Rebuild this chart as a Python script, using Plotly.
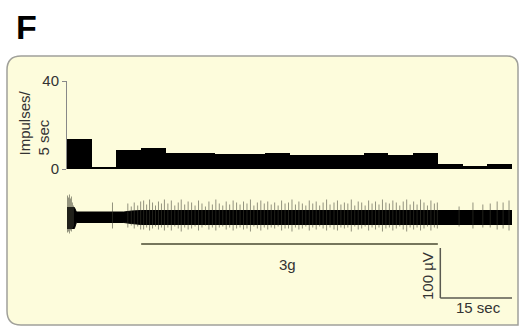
import plotly.graph_objects as go

W, H = 520, 326

# ---- data ----
bin_edges_start = [0, 5, 10, 15, 20, 25, 30, 35, 40, 45, 50, 55, 60, 65, 70, 75, 80, 85]
impulses = [13.5, 0.5, 8.6, 9.7, 7.4, 7.4, 6.7, 6.7, 7.4, 6.4, 6.4, 6.4, 7.4, 6.4, 7.4, 2.3, 1.4, 2.3]
bin_width = 5
y_ticks = [0, 40]
y_tick_labels = ["0", "40"]

spike_t = [
    0.1, 0.3, 0.5, 0.7, 0.9, 1.1, 1.3,
    9.2,
    12.3, 13.0, 13.6, 14.3, 14.9,
    15.5, 16.1, 16.7, 17.3, 17.9, 18.5, 19.1, 19.7,
    20.4, 21.1, 21.8, 22.5, 23.1, 23.8, 24.5,
    25.2, 25.9, 26.6, 27.3, 28.0, 28.7, 29.4,
    30.1, 30.8, 31.5, 32.2, 32.9, 33.6, 34.3,
    35.0, 35.7, 36.4, 37.1, 37.8, 38.5, 39.2, 39.9,
    40.6, 41.3, 42.0, 42.7, 43.4, 44.1,
    44.8, 45.5, 46.2, 46.9, 47.6, 48.3, 49.0,
    49.7, 50.4, 51.1, 51.8, 52.5, 53.2, 54.0,
    54.7, 55.4, 56.1, 56.8, 57.5, 58.2, 58.9,
    59.6, 60.3, 61.0, 61.7, 62.4, 63.1, 63.8, 64.5,
    65.2, 65.9, 66.6, 67.3, 68.0, 68.7, 69.4,
    70.1, 70.8, 71.5, 72.2, 72.9, 73.6, 74.3, 74.9,
    79.3, 82.1, 84.1, 85.6, 87.0, 88.2, 89.4,
]
spike_up = [
    44, 40, 46, 38, 42, 30, 24,
    30,
    28, 22, 30, 24, 32,
    34, 26, 36, 30, 24, 32, 28, 36,
    28, 34, 24, 30, 36, 26, 32,
    30, 24, 34, 28, 22, 32, 26,
    36, 28, 24, 32, 26, 34, 30,
    26, 32, 28, 36, 24, 30, 34, 28,
    32, 26, 30, 24, 34, 28,
    30, 36, 26, 32, 28, 24, 34,
    28, 32, 24, 30, 36, 26, 30,
    34, 26, 30, 28, 36, 24, 32,
    30, 24, 34, 28, 32, 26, 36, 30,
    28, 34, 30, 24, 32, 36, 26,
    32, 26, 36, 30, 24, 34, 28, 30,
    22, 30, 26, 28, 32, 30, 34,
]
spike_dn = [
    30, 28, 32, 26, 28, 22, 18,
    22,
    20, 16, 22, 18, 24,
    24, 20, 26, 22, 18, 24, 20, 26,
    20, 26, 18, 22, 28, 20, 24,
    22, 18, 26, 20, 16, 24, 20,
    26, 20, 18, 24, 20, 26, 22,
    20, 24, 22, 28, 18, 22, 26, 20,
    24, 20, 22, 18, 26, 22,
    22, 28, 20, 24, 22, 18, 26,
    20, 24, 18, 22, 26, 20, 24,
    26, 20, 22, 20, 28, 18, 24,
    22, 18, 26, 20, 24, 20, 28, 22,
    20, 26, 22, 18, 24, 28, 20,
    24, 20, 26, 22, 18, 26, 20, 22,
    18, 22, 20, 20, 24, 22, 26,
]

# background noise band envelope (µV)
env_t = [0, 1.5, 1.9, 11.5, 13, 15, 75, 90]
env_up = [20, 20, 11, 11, 13, 14, 14, 14]
env_dn = [-22, -22, -10, -10, -12, -14, -14, -14]

stim_start, stim_end, stim_label = 15, 75, "3g"
scale_t, scale_uv = 15, 100

# ---- helpers (pixel -> paper) ----
def px(x):
    return x / W

def py(y):
    return 1 - y / H

fig = go.Figure()

# histogram
fig.add_trace(go.Bar(
    x=[s + bin_width / 2 for s in bin_edges_start], y=impulses, width=bin_width,
    marker=dict(color="black", line=dict(width=0)),
    xaxis="x", yaxis="y", showlegend=False, hoverinfo="skip",
))

# noise band
band_x = env_t + env_t[::-1]
band_y = env_up + env_dn[::-1]
fig.add_trace(go.Scatter(
    x=band_x, y=band_y, fill="toself", fillcolor="black", mode="lines",
    line=dict(color="black", width=1), xaxis="x2", yaxis="y2",
    showlegend=False, hoverinfo="skip",
))

# spikes
sx, sy = [], []
for t, u, d in zip(spike_t, spike_up, spike_dn):
    sx += [t, t, None]
    sy += [-d, u, None]
fig.add_trace(go.Scatter(
    x=sx, y=sy, mode="lines", line=dict(color="rgba(60,60,50,0.55)", width=1),
    xaxis="x2", yaxis="y2", showlegend=False, hoverinfo="skip",
))

# y2 range: 0 µV at pixel 217.5, 0.5 px per µV over domain 180..300 px
y2_top = (217.5 - 180) * 2
y2_range = [y2_top - 240, y2_top]
stim_y = y2_top - (244 - 180) * 2
sb_bottom = y2_top - (298 - 180) * 2
sb_t0 = 75.5

shapes = [
    # panel
    dict(type="path", xref="paper", yref="paper", layer="below",
         path=(f"M {px(7)} {py(70)} Q {px(7)} {py(56)} {px(21)} {py(56)} "
               f"L {px(507)} {py(56)} Q {px(518)} {py(56)} {px(518)} {py(67)} "
               f"L {px(518)} {py(325)} L {px(21)} {py(325)} Q {px(7)} {py(325)} {px(7)} {py(311)} Z"),
         fillcolor="#fdfcdc", line=dict(color="#a0a09a", width=1.5)),
    # stimulus bar
    dict(type="line", xref="x2", yref="y2", x0=stim_start, x1=stim_end, y0=stim_y, y1=stim_y,
         line=dict(color="#76765c", width=2)),
    # scale bars
    dict(type="line", xref="x2", yref="y2", x0=sb_t0, x1=sb_t0, y0=sb_bottom, y1=sb_bottom + scale_uv,
         line=dict(color="#5a5a50", width=1.5)),
    dict(type="line", xref="x2", yref="y2", x0=sb_t0, x1=sb_t0 + scale_t, y0=sb_bottom, y1=sb_bottom,
         line=dict(color="#5a5a50", width=1.5)),
]

font_txt = "Liberation Sans, Arial, sans-serif"
annotations = [
    dict(text="<b>F</b>", x=px(14), y=py(27), xref="paper", yref="paper", xanchor="left", yanchor="middle",
         showarrow=False, font=dict(size=34, color="black", family=font_txt)),
    dict(text="Impulses/<br>5 sec", x=px(34), y=py(158), xref="paper", yref="paper",
         xanchor="center", yanchor="bottom", textangle=-90, align="left", showarrow=False,
         font=dict(size=15, color="#333", family=font_txt)),
    dict(text=stim_label, x=px(287), y=py(264), xref="paper", yref="paper", showarrow=False,
         xanchor="center", yanchor="middle",
         font=dict(size=15, color="#333", family=font_txt)),
    dict(text="100 µV", x=px(427), y=py(276), xref="paper", yref="paper", textangle=-90, showarrow=False,
         xanchor="center", yanchor="middle",
         font=dict(size=15, color="#333", family=font_txt)),
    dict(text="15 sec", x=px(478), y=py(307), xref="paper", yref="paper", showarrow=False,
         xanchor="center", yanchor="middle",
         font=dict(size=15, color="#333", family=font_txt)),
]

fig.update_layout(
    width=W, height=H, autosize=False, margin=dict(l=0, r=0, t=0, b=0, pad=0),
    paper_bgcolor="white", plot_bgcolor="rgba(0,0,0,0)",
    bargap=0, shapes=shapes, annotations=annotations,
    xaxis=dict(domain=[px(67), px(512)], range=[0, 90], visible=False, anchor="y", automargin=False),
    yaxis=dict(domain=[py(169), py(81)], range=[0, 40], anchor="x", automargin=False,
               tickvals=y_ticks, ticktext=y_tick_labels, ticks="outside", ticklen=4,
               tickcolor="#888", showline=True, linecolor="#888", linewidth=1,
               showgrid=False, zeroline=False,
               tickfont=dict(size=15, color="#333", family=font_txt)),
    xaxis2=dict(domain=[px(67), px(512)], range=[0, 90], visible=False, anchor="y2", automargin=False),
    yaxis2=dict(domain=[py(300), py(180)], range=y2_range, visible=False, anchor="x2", automargin=False),
)

fig.write_html(
    "out.html",
    config={"displayModeBar": False},
    post_script="document.body.style.margin='0';document.body.style.padding='0';",
)
